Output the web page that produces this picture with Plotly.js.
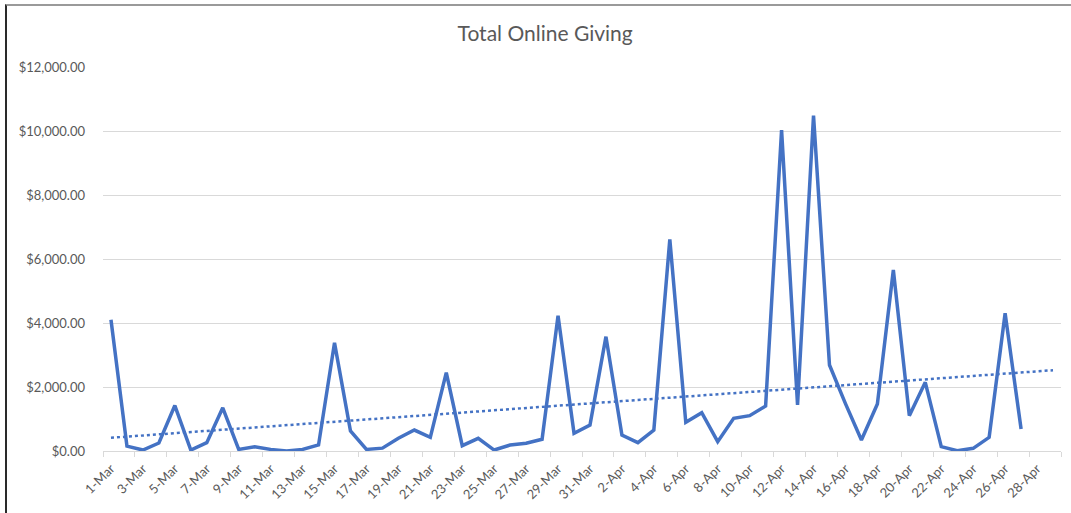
<!DOCTYPE html>
<html>
<head>
<meta charset="utf-8">
<script src="https://cdn.plot.ly/plotly-3.0.1.min.js"></script>
<style>
  html, body { margin: 0; padding: 0; background: #fff; }
  #wrap { position: relative; width: 1071px; height: 513px; overflow: hidden; }
  #chart { position: absolute; left: 0; top: 0; width: 1071px; height: 513px; }
  #frame { position: absolute; left: 5px; top: 4px; width: 1080px; height: 520px;
           border-left: 2px solid #2a2a2a; border-top: 2px solid #9a9a9a; pointer-events: none; }
</style>
</head>
<body>
<div id="wrap">
  <div id="chart"></div>
  <div id="frame"></div>
</div>
<script>
// Categories: 1-Mar .. 29-Apr (60 days); data through 27-Apr
const marchDays = Array.from({length: 31}, (_, i) => (i + 1) + '-Mar');
const aprilDays = Array.from({length: 29}, (_, i) => (i + 1) + '-Apr');
const categories = marchDays.concat(aprilDays);

const marchGiving = [4100, 150, 30, 250, 1420, 30, 260, 1350, 50, 135,
                     50, 0, 50, 190, 3380, 625, 50, 90, 400, 655,
                     427, 2450, 167, 396, 30, 187, 240, 365, 4230, 552, 812];
const aprilGiving = [3573, 500, 260, 656, 6615, 896, 1198, 292, 1020, 1104,
                     1406, 10030, 1437, 10480, 2687, 1480, 344, 1469, 5656, 1104,
                     2146, 135, 10, 83, 427, 4302, 687, null, null];
const giving = marchGiving.concat(aprilGiving);

const tickLabels = categories.filter((c, i) => i % 2 === 0);

// positions
const idx = categories.map((c, i) => i);
const labelPos = idx.filter(i => i % 2 === 0);
const tickMarkPos = [];
for (let b = -0.5; b <= categories.length - 0.5; b += 2) tickMarkPos.push(b);

// Linear trendline (least squares over available points)
const pts = idx.filter(i => giving[i] !== null);
const n = pts.length;
const mx = pts.reduce((s, i) => s + i, 0) / n;
const my = pts.reduce((s, i) => s + giving[i], 0) / n;
let sxy = 0, sxx = 0;
pts.forEach(i => { sxy += (i - mx) * (giving[i] - my); sxx += (i - mx) * (i - mx); });
const slope = sxy / sxx, intercept = my - slope * mx;
const trend = idx.map(i => intercept + slope * i);

const blue = '#4472C4';
const traces = [
  { x: idx, y: giving, type: 'scatter', mode: 'lines', name: 'Total Online Giving',
    line: { color: blue, width: 3.5 }, connectgaps: false, hoverinfo: 'y' },
  { x: idx, y: trend, type: 'scatter', mode: 'lines', name: 'Linear',
    line: { color: blue, width: 2.5, dash: 'dot' }, hoverinfo: 'skip' }
];

const layout = {
  width: 1071, height: 513,
  margin: { l: 103, r: 10, t: 67, b: 62 },
  paper_bgcolor: '#fff', plot_bgcolor: '#fff',
  showlegend: false,
  title: { text: 'Total Online Giving', x: 0.509, xref: 'container', xanchor: 'center',
           y: 0.935, yref: 'container', yanchor: 'middle',
           font: { family: 'Lato, sans-serif', size: 21, color: '#595959' } },
  xaxis: {
    range: [-0.5, categories.length - 0.5],
    tickmode: 'array', tickvals: labelPos, ticktext: tickLabels,
    tickangle: -45, ticks: '', showgrid: false, zeroline: false,
    showline: true, linecolor: '#d9d9d9', linewidth: 1,
    ticklabelstandoff: 4,
    tickfont: { family: 'Lato, sans-serif', size: 13, color: '#595959' }
  },
  xaxis2: {
    overlaying: 'x', side: 'bottom', anchor: 'y',
    range: [-0.5, categories.length - 0.5],
    tickmode: 'array', tickvals: tickMarkPos, showticklabels: false,
    ticks: 'outside', ticklen: 5, tickcolor: '#d9d9d9', tickwidth: 1,
    showgrid: false, zeroline: false, showline: false
  },
  yaxis: {
    range: [0, 12000], tickmode: 'linear', tick0: 0, dtick: 2000,
    tickformat: '$,.2f', showgrid: true, gridcolor: '#d9d9d9', gridwidth: 1,
    zeroline: false, showline: false, ticks: '', ticklen: 0,
    ticklabelstandoff: 17,
    tickfont: { family: 'Lato, sans-serif', size: 13, color: '#595959' }
  }
};

// dummy trace to activate xaxis2 tick marks
traces.push({ x: [-0.5], y: [null], xaxis: 'x2', yaxis: 'y', type: 'scatter', mode: 'lines',
              hoverinfo: 'skip', showlegend: false });

Plotly.newPlot('chart', traces, layout, { displayModeBar: false, staticPlot: true });
</script>
</body>
</html>
